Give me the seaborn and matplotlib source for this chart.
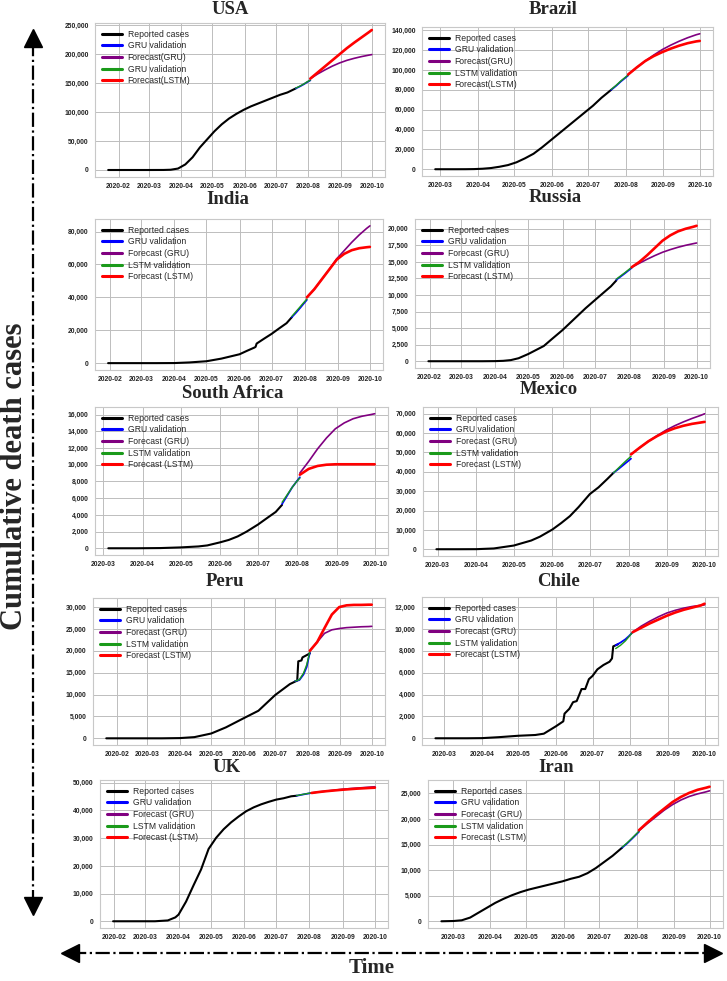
import numpy as np
import pandas as pd
import matplotlib
matplotlib.use("Agg")
import matplotlib.pyplot as plt
import matplotlib.dates as mdates
import matplotlib.ticker as mticker
from matplotlib.lines import Line2D
import seaborn as sns

# ---- shared dates for validation and forecast windows ----
VAL_DAYS = ["2020-07-20", "2020-07-24", "2020-07-28", "2020-07-31", "2020-08-03"]
FC_DAYS = ["2020-08-03", "2020-08-10", "2020-08-17", "2020-08-24", "2020-08-31",
           "2020-09-07", "2020-09-14", "2020-09-21", "2020-09-28", "2020-10-01"]

LABELS_USA = ["Reported cases", "GRU validation", "Forecast(GRU)", "GRU validation", "Forecast(LSTM)"]
LABELS_BRA = ["Reported cases", "GRU validation", "Forecast(GRU)", "LSTM validation", "Forecast(LSTM)"]
LABELS_STD = ["Reported cases", "GRU validation", "Forecast (GRU)", "LSTM validation", "Forecast (LSTM)"]

# ---- USA ----
usa_days = ["2020-01-22", "2020-03-01", "2020-03-15", "2020-03-22", "2020-03-29", "2020-04-05",
            "2020-04-12", "2020-04-19", "2020-04-26", "2020-05-03", "2020-05-10", "2020-05-17",
            "2020-05-24", "2020-05-31", "2020-06-07", "2020-06-14", "2020-06-21", "2020-06-28",
            "2020-07-05", "2020-07-12", "2020-07-20"]
usa_rep = [0, 1, 60, 450, 2500, 9600, 22000, 39000, 53000, 67000, 79000, 89000,
           97000, 104000, 110000, 115000, 120000, 125000, 130000, 134000, 141000]
usa_gru_val = [141000, 144500, 148500, 152000, 155000]
usa_lstm_val = [141500, 145000, 149000, 152500, 155500]
usa_gru_fc = [158000, 166000, 173000, 179500, 185000, 189500, 193000, 196000, 198500, 199500]
usa_lstm_fc = [158000, 168500, 179000, 189500, 200000, 210500, 220000, 229000, 238000, 242000]

# ---- Brazil ----
bra_days = ["2020-02-26", "2020-03-15", "2020-03-22", "2020-03-29", "2020-04-05", "2020-04-12",
            "2020-04-19", "2020-04-26", "2020-05-03", "2020-05-10", "2020-05-17", "2020-05-24",
            "2020-05-31", "2020-06-07", "2020-06-14", "2020-06-21", "2020-06-28", "2020-07-05",
            "2020-07-12", "2020-07-20"]
bra_rep = [0, 0, 25, 136, 500, 1200, 2500, 4200, 7000, 11000, 15600, 22000,
           29000, 36000, 43000, 50000, 57000, 64000, 72000, 80000]
bra_gru_val = [80000, 84000, 88500, 91500, 94500]
bra_lstm_val = [80500, 84500, 89000, 92000, 95000]
bra_gru_fc = [95500, 102500, 109000, 115000, 120500, 125000, 129000, 132500, 135500, 136500]
bra_lstm_fc = [95500, 102500, 109000, 114000, 118000, 121500, 124500, 127000, 128800, 129300]

# ---- India ----
ind_days = ["2020-01-30", "2020-03-15", "2020-04-01", "2020-04-15", "2020-05-01", "2020-05-15",
            "2020-06-01", "2020-06-08", "2020-06-15", "2020-06-16", "2020-06-17", "2020-06-24",
            "2020-07-01", "2020-07-08", "2020-07-15", "2020-07-20"]
ind_rep = [0, 2, 50, 420, 1150, 2750, 5400, 7500, 9500, 9900, 11900, 14900,
           17800, 21100, 24300, 28000]
ind_gru_val = [28000, 30800, 33800, 36200, 38500]
ind_lstm_val = [28500, 31500, 34500, 36800, 39000]
ind_gru_fc = [40000, 45000, 51000, 57000, 63500, 68500, 73500, 78000, 82000, 83500]
ind_lstm_fc = [40000, 45000, 51000, 57000, 63000, 66500, 68700, 69900, 70500, 70700]

# ---- Russia ----
rus_days = ["2020-01-31", "2020-03-20", "2020-04-01", "2020-04-08", "2020-04-15", "2020-04-22",
            "2020-05-01", "2020-05-08", "2020-05-15", "2020-05-22", "2020-06-01", "2020-06-08",
            "2020-06-15", "2020-06-22", "2020-07-01", "2020-07-08", "2020-07-15", "2020-07-20"]
rus_rep = [0, 0, 17, 60, 170, 450, 1100, 1700, 2300, 3300, 4700, 5800,
           6900, 8000, 9300, 10300, 11300, 12200]
rus_gru_val = [12300, 12800, 13300, 13700, 14100]
rus_lstm_val = [12400, 12900, 13400, 13800, 14200]
rus_gru_fc = [14200, 14800, 15400, 15950, 16450, 16850, 17200, 17500, 17750, 17850]
rus_lstm_fc = [14200, 15000, 16000, 17100, 18200, 19000, 19600, 20000, 20300, 20450]

# ---- South Africa ----
zaf_days = ["2020-03-05", "2020-03-27", "2020-04-15", "2020-05-01", "2020-05-15", "2020-05-22",
            "2020-06-01", "2020-06-08", "2020-06-15", "2020-06-22", "2020-07-01", "2020-07-08",
            "2020-07-15", "2020-07-20"]
zaf_rep = [0, 1, 25, 103, 219, 340, 705, 1000, 1420, 1990, 2840, 3600, 4350, 5200]
zaf_gru_val = [5300, 6300, 7300, 7900, 8500]
zaf_lstm_val = [5500, 6400, 7300, 7900, 8400]
zaf_gru_fc = [9000, 10400, 11900, 13200, 14300, 15000, 15500, 15800, 16000, 16100]
zaf_lstm_fc = [8800, 9500, 9850, 10000, 10050, 10050, 10050, 10050, 10050, 10050]

# ---- Mexico ----
mex_days = ["2020-02-29", "2020-03-18", "2020-04-01", "2020-04-15", "2020-05-01", "2020-05-15",
            "2020-05-22", "2020-06-01", "2020-06-08", "2020-06-15", "2020-06-22", "2020-07-01",
            "2020-07-08", "2020-07-15", "2020-07-20"]
mex_rep = [0, 1, 30, 400, 1900, 4500, 6500, 10200, 13500, 17100, 21800, 28500,
           32000, 36300, 39500]
mex_gru_val = [39500, 41500, 43600, 45200, 46800]
mex_lstm_val = [39500, 42000, 44500, 46300, 48000]
mex_gru_fc = [49000, 52500, 55800, 58700, 61500, 63800, 65800, 67600, 69200, 70000]
mex_lstm_fc = [49000, 52500, 55800, 58500, 60800, 62500, 63800, 64800, 65500, 65800]

# ---- Peru ----
per_days = ["2020-01-22", "2020-03-15", "2020-04-01", "2020-04-15", "2020-05-01", "2020-05-15",
            "2020-06-01", "2020-06-15", "2020-07-01", "2020-07-15", "2020-07-22", "2020-07-23",
            "2020-07-26", "2020-07-27", "2020-08-03"]
per_rep = [0, 0, 50, 274, 1100, 2500, 4600, 6300, 9900, 12400, 13200, 17600,
           17800, 18500, 19400]
per_gru_val = [13100, 13300, 14600, 16300, 19600]
per_lstm_val = [13100, 13400, 14900, 16800, 19800]
per_gru_fc = [20000, 22000, 24000, 24800, 25100, 25300, 25400, 25500, 25550, 25600]
per_lstm_fc = [20000, 22000, 25200, 28300, 30000, 30400, 30500, 30500, 30550, 30550]

# ---- Chile ----
chl_days = ["2020-02-23", "2020-03-20", "2020-04-01", "2020-04-15", "2020-05-01", "2020-05-15",
            "2020-05-22", "2020-06-01", "2020-06-07", "2020-06-08", "2020-06-12", "2020-06-15",
            "2020-06-18", "2020-06-22", "2020-06-25", "2020-06-28", "2020-07-01", "2020-07-05",
            "2020-07-10", "2020-07-15", "2020-07-17", "2020-07-18", "2020-07-22"]
chl_rep = [0, 0, 12, 100, 230, 300, 420, 1100, 1550, 2250, 2700, 3300,
           3400, 4500, 4500, 5400, 5700, 6300, 6700, 7000, 7300, 8400, 8600]
chl_gru_val = [8500, 8750, 9050, 9350, 9700]
chl_lstm_val = [8200, 8500, 8900, 9300, 9700]
chl_gru_fc = [9700, 10250, 10700, 11100, 11450, 11700, 11900, 12050, 12150, 12200]
chl_lstm_fc = [9700, 10100, 10500, 10850, 11200, 11500, 11750, 11950, 12150, 12300]

# ---- UK ----
uk_days = ["2020-01-31", "2020-03-10", "2020-03-22", "2020-03-29", "2020-04-01", "2020-04-08",
           "2020-04-15", "2020-04-22", "2020-04-29", "2020-05-06", "2020-05-13", "2020-05-20",
           "2020-05-27", "2020-06-03", "2020-06-10", "2020-06-17", "2020-06-24", "2020-07-01",
           "2020-07-08", "2020-07-15", "2020-07-20"]
uk_rep = [0, 5, 300, 1400, 2400, 7100, 13000, 18700, 26100, 30100, 33200, 35700,
          37800, 39700, 41100, 42200, 43100, 43900, 44400, 45100, 45300]
uk_gru_val = [45300, 45600, 45900, 46100, 46300]
uk_lstm_val = [45350, 45650, 45950, 46150, 46350]
uk_gru_fc = [46300, 46700, 47000, 47300, 47600, 47850, 48050, 48250, 48450, 48550]
uk_lstm_fc = [46300, 46650, 46950, 47200, 47450, 47650, 47850, 48000, 48150, 48200]

# ---- Iran ----
irn_days = ["2020-02-20", "2020-03-01", "2020-03-08", "2020-03-15", "2020-03-22", "2020-03-29",
            "2020-04-05", "2020-04-12", "2020-04-19", "2020-04-26", "2020-05-03", "2020-05-10",
            "2020-05-17", "2020-05-24", "2020-05-31", "2020-06-07", "2020-06-14", "2020-06-21",
            "2020-06-28", "2020-07-05", "2020-07-12", "2020-07-20"]
irn_rep = [2, 54, 194, 724, 1685, 2640, 3600, 4400, 5100, 5700, 6200, 6600,
           7000, 7400, 7800, 8300, 8700, 9400, 10400, 11600, 12800, 14400]
irn_gru_val = [14400, 15200, 16100, 16800, 17500]
irn_lstm_val = [14500, 15300, 16200, 16900, 17600]
irn_gru_fc = [17700, 19100, 20400, 21700, 22800, 23700, 24400, 24900, 25300, 25500]
irn_lstm_fc = [17800, 19300, 20700, 22000, 23300, 24300, 25100, 25700, 26100, 26300]

# ---- style ----
sns.set_theme(style="whitegrid")
plt.rcParams["font.family"] = ["Liberation Sans", "DejaVu Sans"]
plt.rcParams["font.weight"] = "bold"

W, H = 727, 981
fig = plt.figure(figsize=(W / 100, H / 100), dpi=100)


def px_axes(left, top, right, bottom):
    return fig.add_axes([left / W, 1 - bottom / H, (right - left) / W, (bottom - top) / H])


def draw_panel(box, title, tpos, days, rep, gru_val, lstm_val, gru_fc, lstm_fc, labels, step):
    ax = px_axes(*box)
    d = pd.to_datetime(days)
    v = pd.to_datetime(VAL_DAYS)
    f = pd.to_datetime(FC_DAYS)
    sns.lineplot(x=d, y=rep, ax=ax, color="black", lw=1.5, label=labels[0])
    sns.lineplot(x=v, y=gru_val, ax=ax, color="#0000ff", lw=1.3, label=labels[1])
    sns.lineplot(x=f, y=gru_fc, ax=ax, color="#800080", lw=1.2, label=labels[2])
    sns.lineplot(x=v, y=lstm_val, ax=ax, color="#1a9a1a", lw=1.0, label=labels[3])
    sns.lineplot(x=f, y=lstm_fc, ax=ax, color="#ff0000", lw=1.9, label=labels[4])

    ax.xaxis.set_major_locator(mdates.MonthLocator())
    ax.xaxis.set_major_formatter(mdates.DateFormatter("%Y-%m"))
    ax.yaxis.set_major_locator(mticker.MultipleLocator(step))
    ax.yaxis.set_major_formatter(mticker.StrMethodFormatter("{x:,.0f}"))
    ax.set_xlabel("")
    ax.set_ylabel("")
    ax.tick_params(labelsize=4.9, length=3, width=0.6, pad=1.5, color="#333333", labelcolor="#222222")
    ax.grid(True, color="#bdbdbd", lw=0.7)
    for s in ax.spines.values():
        s.set_color("#c8c8c8")
        s.set_linewidth(0.8)
    leg = ax.legend(loc="upper left", frameon=False, prop={"size": 6.2, "weight": "normal"},
                    handlelength=2.3, handletextpad=0.7, labelspacing=0.3, borderaxespad=0.4)
    for line in leg.get_lines():
        line.set_linewidth(2.2)
    fig.text(tpos[0] / W, 1 - tpos[1] / H, title, ha="center", va="center",
             fontsize=13.5, fontweight="bold", family="Liberation Serif")
    return ax


draw_panel((95, 23, 385, 177), "USA", (230, 9), usa_days, usa_rep, usa_gru_val, usa_lstm_val,
           usa_gru_fc, usa_lstm_fc, LABELS_USA, 50000)
draw_panel((422, 27, 713, 176), "Brazil", (553, 9), bra_days, bra_rep, bra_gru_val, bra_lstm_val,
           bra_gru_fc, bra_lstm_fc, LABELS_BRA, 20000)
draw_panel((95, 219, 383, 370), "India", (228, 200), ind_days, ind_rep, ind_gru_val, ind_lstm_val,
           ind_gru_fc, ind_lstm_fc, LABELS_STD, 20000)
draw_panel((415, 219, 710, 368), "Russia", (555, 197), rus_days, rus_rep, rus_gru_val, rus_lstm_val,
           rus_gru_fc, rus_lstm_fc, LABELS_STD, 2500)
draw_panel((95, 407, 388, 555), "South Africa", (233, 393), zaf_days, zaf_rep, zaf_gru_val, zaf_lstm_val,
           zaf_gru_fc, zaf_lstm_fc, LABELS_STD, 2000)
draw_panel((423, 407, 718, 556), "Mexico", (549, 390), mex_days, mex_rep, mex_gru_val, mex_lstm_val,
           mex_gru_fc, mex_lstm_fc, LABELS_STD, 10000)
draw_panel((93, 598, 385, 745), "Peru", (225, 581), per_days, per_rep, per_gru_val, per_lstm_val,
           per_gru_fc, per_lstm_fc, LABELS_STD, 5000)
draw_panel((422, 597, 718, 745), "Chile", (558, 582), chl_days, chl_rep, chl_gru_val, chl_lstm_val,
           chl_gru_fc, chl_lstm_fc, LABELS_STD, 2000)
draw_panel((100, 780, 388, 928), "UK", (227, 767), uk_days, uk_rep, uk_gru_val, uk_lstm_val,
           uk_gru_fc, uk_lstm_fc, LABELS_STD, 10000)
draw_panel((428, 780, 723, 928), "Iran", (556, 767), irn_days, irn_rep, irn_gru_val, irn_lstm_val,
           irn_gru_fc, irn_lstm_fc, LABELS_STD, 5000)

# ---- big axis captions with dash-dot arrows ----
fig.text(15 / W, 1 - 476 / H, "Cumulative death cases", rotation=90, ha="center", va="center",
         fontsize=22, fontweight="bold", family="Liberation Serif")
fig.add_artist(Line2D([33 / W, 33 / W], [1 - 42 / H, 1 - 902 / H], ls="-.", lw=1.6,
                      color="black", transform=fig.transFigure))
fig.add_artist(Line2D([33 / W], [1 - 38 / H], marker="^", markersize=13, color="black",
                      transform=fig.transFigure))
fig.add_artist(Line2D([33 / W], [1 - 906 / H], marker="v", markersize=13, color="black",
                      transform=fig.transFigure))

fig.add_artist(Line2D([72 / W, 710 / W], [1 - 953 / H, 1 - 953 / H], ls="-.", lw=1.6,
                      color="black", transform=fig.transFigure))
fig.add_artist(Line2D([70 / W], [1 - 953 / H], marker="<", markersize=13, color="black",
                      transform=fig.transFigure))
fig.add_artist(Line2D([713 / W], [1 - 953 / H], marker=">", markersize=13, color="black",
                      transform=fig.transFigure))
fig.text(372 / W, 1 - 968 / H, "Time", ha="center", va="center",
         fontsize=15, fontweight="bold", family="Liberation Serif")

fig.savefig("out.png", dpi=100)
